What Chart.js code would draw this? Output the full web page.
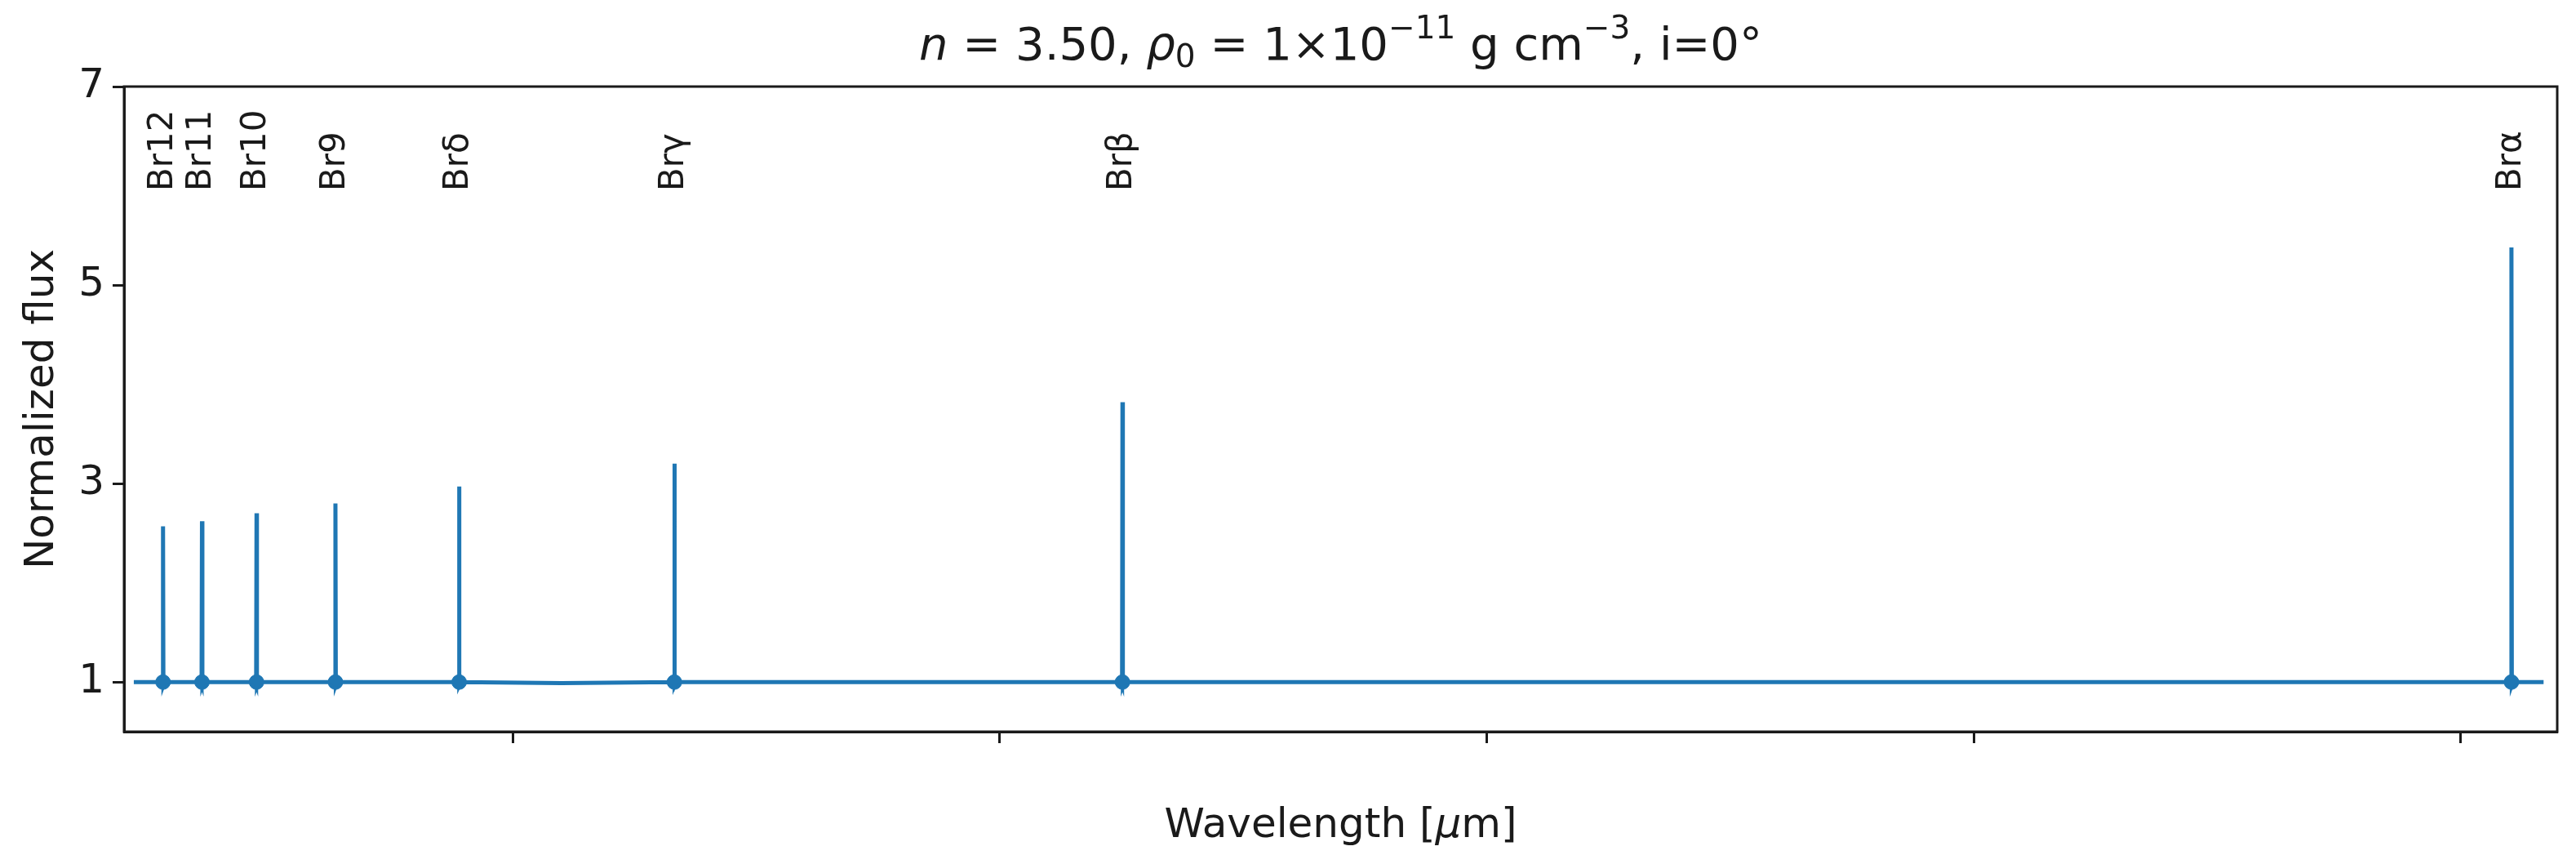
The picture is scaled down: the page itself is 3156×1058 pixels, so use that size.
<!DOCTYPE html>
<html><head><meta charset="utf-8">
<script src="https://cdn.jsdelivr.net/npm/chart.js@4/dist/chart.umd.min.js"></script>
<style>html,body{margin:0;padding:0;background:#fff}#wrap{width:3156px;height:1058px}</style>
</head><body><div id="wrap"><canvas id="c" width="3156" height="1058"></canvas></div>
<script>
const lineNames = ["Br12","Br11","Br10","Br9","Brδ","Brγ","Brβ","Brα"];
const lineWavelengths = [1.641, 1.681, 1.737, 1.818, 1.945, 2.166, 2.626, 4.052];
const linePeaks = [2.57, 2.62, 2.70, 2.80, 2.97, 3.20, 3.82, 5.38];
const baseWavelengths = [1.611, 1.945, 2.05, 2.166, 2.30, 4.085];
const baseFlux = [1.0, 1.0, 0.99, 0.985, 1.0, 1.0];
const xTicks = [2.0, 2.5, 3.0, 3.5, 4.0];
const yTicks = [1, 3, 5, 7];

// build spectrum points from the arrays
const pts = [];
baseWavelengths.forEach((w,i)=>pts.push({x:w,y:baseFlux[i]}));
lineWavelengths.forEach((w,i)=>{
  pts.push({x:w-0.0015,y:1.0});
  pts.push({x:w-0.0004,y:0.97});
  pts.push({x:w,y:linePeaks[i]});
  pts.push({x:w+0.0004,y:0.97});
  pts.push({x:w+0.0015,y:1.0});
});
pts.sort((a,b)=>a.x-b.x);
const dots = lineWavelengths.map(w=>({x:w,y:1.0}));

const blue = '#1f77b4', ink = '#1a1a1a';
const FONT = 'DejaVu Sans';

const deco = {
  id:'deco',
  afterDraw(chart){
    const {ctx, chartArea:a, scales:{x}} = chart;
    ctx.save();
    ctx.strokeStyle = ink; ctx.lineWidth = 3;
    ctx.strokeRect(a.left, a.top, a.right-a.left, a.bottom-a.top);
    // line labels
    ctx.fillStyle = ink; ctx.font = `42px "${FONT}"`;
    ctx.textAlign = 'left'; ctx.textBaseline = 'middle';
    lineNames.forEach((n,i)=>{
      const px = x.getPixelForValue(lineWavelengths[i]);
      ctx.save(); ctx.translate(px, 234); ctx.rotate(-Math.PI/2);
      ctx.fillText(n, 0, 0); ctx.restore();
    });
    // y title
    ctx.font = `50px "${FONT}"`; ctx.textAlign='center'; ctx.textBaseline='middle';
    ctx.save(); ctx.translate(52, (a.top+a.bottom)/2); ctx.rotate(-Math.PI/2);
    ctx.fillText('Normalized flux',0,0); ctx.restore();
    // x title with italic mu
    const cx = (a.left+a.right)/2, cy = 1012;
    const parts = [['Wavelength [',''],['μ','italic '],['m]','']];
    drawParts(ctx, parts, cx, cy, 50);
    // title
    const tparts = [['n','italic '],[' = 3.50, ',''],['ρ','italic '],['0','',-1],[' = 1×10',''],['−11','',1],[' g cm',''],['−3','',1],[', i=0°','']];
    drawParts(ctx, tparts, cx, 58, 56);
    ctx.restore();
  }
};
function drawParts(ctx, parts, cx, cy, fs){
  const fontOf = p => `${p[1]}${p[2]?Math.round(fs*0.7):fs}px "${FONT}"`;
  let w = 0;
  parts.forEach(p=>{ctx.font=fontOf(p); w+=ctx.measureText(p[0]).width;});
  let xx = cx - w/2;
  ctx.textAlign='left'; ctx.textBaseline='middle';
  parts.forEach(p=>{
    ctx.font=fontOf(p);
    const dy = p[2]===1 ? -fs*0.38 : (p[2]===-1 ? fs*0.25 : 0);
    ctx.fillText(p[0], xx, cy+dy);
    xx += ctx.measureText(p[0]).width;
  });
}

new Chart(document.getElementById('c'), {
  type:'scatter',
  data:{datasets:[
    {data:pts, showLine:true, borderColor:blue, backgroundColor:blue, borderWidth:5, pointRadius:0, tension:0},
    {data:dots, showLine:false, borderColor:blue, backgroundColor:blue, pointRadius:9, pointStyle:'circle'}
  ]},
  options:{
    responsive:false, animation:false, devicePixelRatio:1,
    layout:{padding:{left:0, top:106, right:23, bottom:162}},
    plugins:{legend:{display:false}, tooltip:{enabled:false}},
    scales:{
      x:{type:'linear', min:1.601, max:4.099,
        afterFit(s){s.height=0;},
        afterBuildTicks(s){s.ticks = xTicks.map(v=>({value:v}));},
        ticks:{font:{family:FONT,size:50}, color:ink, padding:8, maxRotation:0, callback:v=>v.toFixed(1)},
        grid:{drawOnChartArea:false, drawTicks:true, tickLength:14, tickWidth:3, tickColor:ink},
        border:{display:true, width:3, color:ink}},
      y:{min:0.5, max:7,
        afterFit(s){s.width=152;},
        afterBuildTicks(s){s.ticks = yTicks.map(v=>({value:v}));},
        ticks:{font:{family:FONT,size:50}, color:ink, padding:10},
        grid:{drawOnChartArea:false, drawTicks:true, tickLength:14, tickWidth:3, tickColor:ink},
        border:{display:true, width:3, color:ink}}
    }
  },
  plugins:[deco]
});
</script></body></html>
